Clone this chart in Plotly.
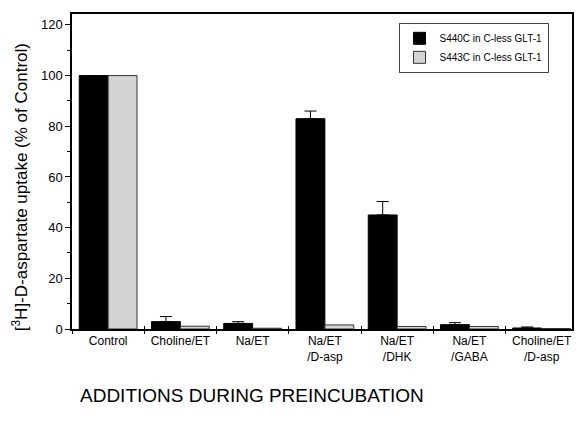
import plotly.graph_objects as go

# Preincubation conditions (x categories)
conditions = ["Control", "Choline/ET", "Na/ET", "Na/ET<br>/D-asp",
              "Na/ET<br>/DHK", "Na/ET<br>/GABA", "Choline/ET<br>/D-asp"]

# [3H]-D-aspartate uptake, % of control
s440c_uptake = [100, 2.9, 2.2, 83.0, 45.0, 1.7, 0.4]
s440c_err = [0, 2.0, 0.7, 3.0, 5.3, 0.8, 0.4]
s443c_uptake = [100, 1.1, 0.3, 1.6, 1.0, 1.0, 0.2]

s440c_name = "S440C in C-less GLT-1"
s443c_name = "S443C in C-less GLT-1"

y_ticks = [0, 20, 40, 60, 80, 100, 120]

FONT = "Arial, Liberation Sans, sans-serif"

fig = go.Figure()

fig.add_trace(go.Bar(
    x=conditions, y=s440c_uptake, name=s440c_name,
    marker=dict(color="black", line=dict(color="black", width=1)),
    error_y=dict(type="data", array=s440c_err, arrayminus=[0] * len(s440c_err),
                 symmetric=False, color="black", thickness=1, width=6),
))
fig.add_trace(go.Bar(
    x=conditions, y=s443c_uptake, name=s443c_name,
    marker=dict(color="#d4d4d4", line=dict(color="#333333", width=1)),
))

# invisible trace that carries the second (inside-tick) x axis
fig.add_trace(go.Scatter(
    x=conditions, y=[0] * len(conditions), xaxis="x2", mode="markers",
    marker=dict(opacity=0), showlegend=False, hoverinfo="skip",
))

x_range = [-0.5, 6.42]

fig.update_layout(
    width=577, height=424,
    margin=dict(l=72, r=3, t=14, b=95),
    paper_bgcolor="white", plot_bgcolor="white",
    font=dict(family=FONT, color="black"),
    barmode="group", bargap=0.2, bargroupgap=0,
    showlegend=True,
    legend=dict(
        x=0.653, y=0.972, xanchor="left", yanchor="top",
        bordercolor="#444444", borderwidth=1, bgcolor="white",
        font=dict(size=10, family=FONT), tracegroupgap=0,
        itemwidth=30,
    ),
    xaxis=dict(
        type="category", categoryorder="array", categoryarray=conditions,
        range=x_range, showline=True, linecolor="black", linewidth=1.5,
        mirror=True, ticks="outside", tickson="boundaries", ticklen=3,
        tickwidth=1, tickcolor="black", showgrid=False, zeroline=False,
        tickfont=dict(size=12, family=FONT),
    ),
    xaxis2=dict(
        type="category", categoryorder="array", categoryarray=conditions,
        range=x_range, overlaying="x", anchor="y", side="bottom",
        ticks="inside", tickson="boundaries", ticklen=3, tickwidth=1,
        tickcolor="black", showticklabels=False, showline=False,
        showgrid=False, zeroline=False,
    ),
    yaxis=dict(
        range=[0, 124.3], tickvals=y_ticks, ticks="outside", ticklen=5,
        tickwidth=1, tickcolor="black", showline=True, linecolor="black",
        linewidth=1.5, mirror=True, showgrid=False, zeroline=False,
        tickfont=dict(size=13, family=FONT),
        minor=dict(dtick=10, tick0=0, ticks="outside", ticklen=3,
                   tickwidth=1, tickcolor="black"),
    ),
    annotations=[
        dict(
            text="[<sup>3</sup>H]-D-aspartate uptake (% of Control)",
            xref="paper", yref="paper", x=-0.104, y=0.45,
            xanchor="center", yanchor="middle", textangle=-90,
            showarrow=False, font=dict(size=17, family=FONT, color="black"),
        ),
        dict(
            text="ADDITIONS DURING PREINCUBATION", xref="paper", yref="paper",
            x=0.36, y=-0.21, xanchor="center", yanchor="middle",
            showarrow=False, font=dict(size=19, family=FONT, color="black"),
        ),
    ],
)

fig.write_html("out.html")
